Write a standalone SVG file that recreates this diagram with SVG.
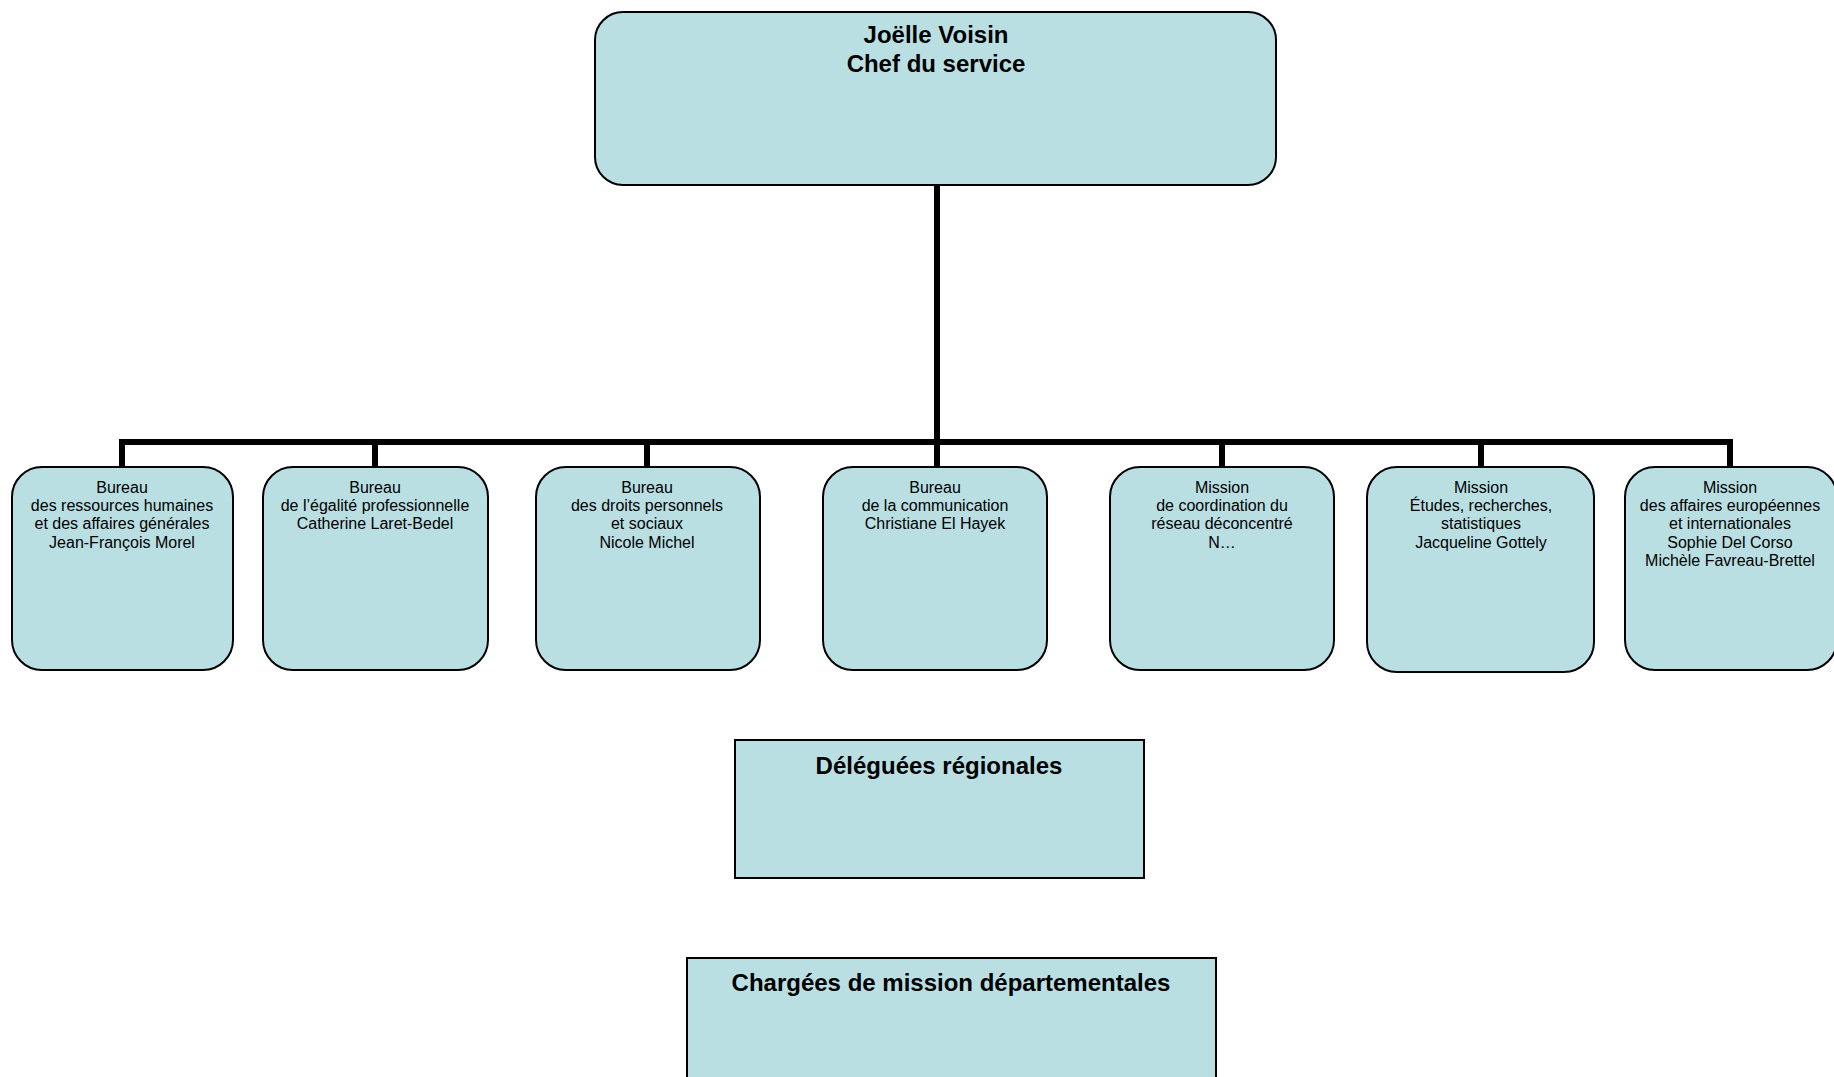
<svg xmlns="http://www.w3.org/2000/svg" width="1834" height="1077" viewBox="0 0 1834 1077">
<style>
.box{fill:#B9DFE3;stroke:#000;stroke-width:2}
.t{font-family:"Liberation Sans",Arial,sans-serif;font-size:16px;fill:#000;text-anchor:middle}
.b{font-family:"Liberation Sans",Arial,sans-serif;font-size:24px;font-weight:bold;fill:#000;text-anchor:middle}
.c{fill:none;stroke:#000;stroke-width:6}
</style>
<rect width="1834" height="1077" fill="#fff"/>
<g id="connectors">
<line class="c" x1="937" y1="185" x2="937" y2="442"/>
<line class="c" x1="119" y1="442" x2="1733" y2="442"/>
<line class="c" x1="122" y1="442" x2="122" y2="467"/>
<line class="c" x1="375" y1="442" x2="375" y2="467"/>
<line class="c" x1="647" y1="442" x2="647" y2="467"/>
<line class="c" x1="937" y1="442" x2="937" y2="467"/>
<line class="c" x1="1222" y1="442" x2="1222" y2="467"/>
<line class="c" x1="1481" y1="442" x2="1481" y2="467"/>
<line class="c" x1="1730" y1="442" x2="1730" y2="467"/>
</g>
<g id="chef">
<rect class="box" x="595" y="12" width="681" height="173" rx="28"/>
<text class="b" x="936" y="43">Joëlle Voisin</text>
<text class="b" x="936" y="72">Chef du service</text>
</g>
<g id="rh">
<rect class="box" x="12" y="467" width="221" height="203" rx="30"/>
<text class="t" x="122" y="493">Bureau</text>
<text class="t" x="122" y="511">des ressources humaines</text>
<text class="t" x="122" y="529">et des affaires générales</text>
<text class="t" x="122" y="548">Jean-François Morel</text>
</g>
<g id="egalite">
<rect class="box" x="263" y="467" width="225" height="203" rx="30"/>
<text class="t" x="375" y="493">Bureau</text>
<text class="t" x="375" y="511">de l’égalité professionnelle</text>
<text class="t" x="375" y="529">Catherine Laret-Bedel</text>
</g>
<g id="droits">
<rect class="box" x="536" y="467" width="224" height="203" rx="30"/>
<text class="t" x="647" y="493">Bureau</text>
<text class="t" x="647" y="511">des droits personnels</text>
<text class="t" x="647" y="529">et sociaux</text>
<text class="t" x="647" y="548">Nicole Michel</text>
</g>
<g id="communication">
<rect class="box" x="823" y="467" width="224" height="203" rx="30"/>
<text class="t" x="935" y="493">Bureau</text>
<text class="t" x="935" y="511">de la communication</text>
<text class="t" x="935" y="529">Christiane El Hayek</text>
</g>
<g id="coordination">
<rect class="box" x="1110" y="467" width="224" height="203" rx="30"/>
<text class="t" x="1222" y="493">Mission</text>
<text class="t" x="1222" y="511">de coordination du</text>
<text class="t" x="1222" y="529">réseau déconcentré</text>
<text class="t" x="1222" y="548">N…</text>
</g>
<g id="etudes">
<rect class="box" x="1367" y="467" width="227" height="205" rx="30"/>
<text class="t" x="1481" y="493">Mission</text>
<text class="t" x="1481" y="511">Études, recherches,</text>
<text class="t" x="1481" y="529">statistiques</text>
<text class="t" x="1481" y="548">Jacqueline Gottely</text>
</g>
<g id="europe">
<rect class="box" x="1625" y="467" width="212" height="203" rx="30"/>
<text class="t" x="1730" y="493">Mission</text>
<text class="t" x="1730" y="511">des affaires européennes</text>
<text class="t" x="1730" y="529">et internationales</text>
<text class="t" x="1730" y="548">Sophie Del Corso</text>
<text class="t" x="1730" y="566">Michèle Favreau-Brettel</text>
</g>
<g id="deleguees">
<rect class="box" x="735" y="740" width="409" height="138"/>
<text class="b" x="939" y="774">Déléguées régionales</text>
</g>
<g id="chargees">
<rect class="box" x="687" y="958" width="529" height="130"/>
<text class="b" x="951" y="991">Chargées de mission départementales</text>
</g>
</svg>
